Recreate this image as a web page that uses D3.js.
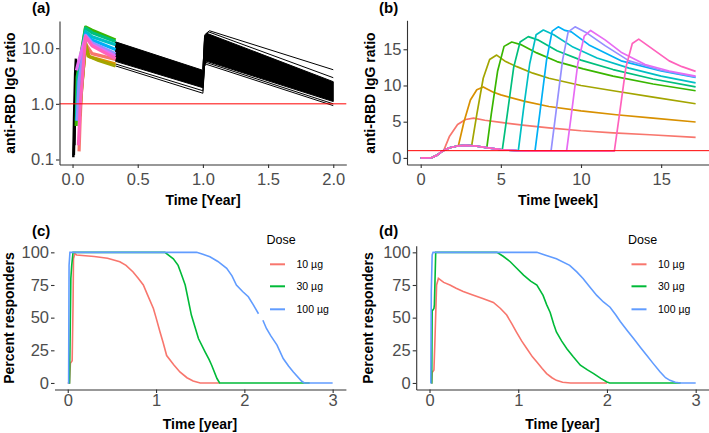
<!DOCTYPE html>
<html>
<meta charset="utf-8">
<script src="https://cdn.jsdelivr.net/npm/d3@7"></script>
<style>
body{margin:0;background:#fff;}
svg{font-family:"Liberation Sans", Arial, sans-serif;}
.tick text{fill:#4d4d4d;font-size:16.5px;}
.ptitle{font-weight:bold;font-size:15px;}
.atitle{font-weight:bold;font-size:14px;}
</style>
<body>
<svg id="fig" width="709" height="433"></svg>
<script>
const hue10 = ["#F8766D","#D89000","#A3A500","#39B600","#00BF7D","#00BFC4","#00B0F6","#9590FF","#E76BF3","#FF62BC"];
const doseCols = ["#F8766D","#00BA38","#619CFF"];
const doseLabels = ["10 µg","30 µg","100 µg"];

// ---- (a) IgG ratio over 2 years, [year, ratio]
const aBandT  = [0.33, 1.0, 1.012, 1.03, 2.0];
const aBandHi = [13.0, 4.0, 15.5, 18.5, 2.5];
const aBandLo = [5.8, 1.95, 4.8, 5.8, 1.1];
const aEdgeLines = [
  [[0.33,5.2],[1.0,1.72],[1.013,5.3],[1.03,5.5],[2.0,1.0]],
  [[0.33,4.8],[1.0,1.55],[1.013,4.9],[1.03,5.1],[2.0,0.93]],
  [[1.0,4.2],[1.015,17.5],[1.05,20.6],[2.0,4.1]],
  [[1.0,4.1],[1.014,16.8],[1.045,19.6],[2.0,2.95]]
];
const aRiseLines = [
  [[0.006,0.11],[0.012,0.6],[0.02,3.5],[0.026,6.5]],
  [[0.01,0.12],[0.016,0.4],[0.024,2.5],[0.03,6]],
  [[0.014,0.18],[0.02,1.0],[0.028,4.5],[0.034,5.5]]
];
const aColLines = [
  [[0.05,0.14],[0.058,0.5],[0.07,2],[0.1,12],[0.15,8],[0.33,6.3]],
  [[0.055,0.6],[0.065,1.5],[0.1,11],[0.13,7],[0.2,6.3],[0.33,5.2]],
  [[0.05,0.5],[0.1,12.5],[0.12,7.2],[0.2,6],[0.33,4.8]],
  [[0.028,0.4],[0.035,3],[0.1,24],[0.15,21],[0.33,14]],
  [[0.03,0.5],[0.04,3],[0.1,23],[0.15,19],[0.33,13.2]],
  [[0.032,0.5],[0.045,2.5],[0.1,20],[0.15,16],[0.33,11.5]],
  [[0.035,0.5],[0.05,2],[0.1,18],[0.15,14],[0.33,9.5]],
  [[0.037,0.5],[0.05,2.5],[0.1,17],[0.15,12.5],[0.33,8]],
  [[0.03,4],[0.04,5],[0.1,16.5],[0.15,11.5],[0.33,7.2]],
  [[0.045,0.18],[0.06,1],[0.1,16],[0.15,11],[0.33,6.5]]
];

// ---- (b) IgG ratio by week, first dose + boosts
const bPrimary = [[0,0],[0.7,0.05],[1.0,0.35],[1.4,1.0],[1.8,1.4],[2.3,1.65],[2.8,1.72],[3.3,1.68],[4.0,1.45],[5.0,1.15],[6.0,1.0],[7.0,0.95],[12.08,0.92]];
const bBoost = [
  [[1.45,1.1],[1.8,3.0],[2.3,4.6],[2.8,5.3],[3.3,5.5],[4.0,5.2],[5.0,4.9],[6.5,4.5],[8.0,4.15],[10.0,3.75],[12.0,3.45],[14.3,3.2],[17.15,2.84]],
  [[2.35,1.68],[2.7,5.0],[3.1,8.0],[3.5,9.4],[3.9,9.8],[4.5,9.1],[5.0,8.7],[6.5,7.8],[8.0,7.1],[10.0,6.5],[12.2,5.96],[14.5,5.5],[17.15,4.96]],
  [[3.18,1.7],[3.5,6.0],[3.9,11.0],[4.3,13.6],[4.74,14.2],[5.3,13.3],[6.0,12.6],[7.0,11.7],[8.0,11.0],[10.0,10.0],[12.2,9.2],[14.5,8.4],[17.15,7.48]],
  [[4.12,1.35],[4.4,6.0],[4.8,12.0],[5.2,15.4],[5.68,16.0],[6.3,15.6],[7.24,14.5],[8.5,13.3],[10.14,12.3],[12.0,11.3],[14.5,10.2],[17.15,9.27]],
  [[5.09,1.1],[5.4,6.0],[5.8,12.5],[6.2,16.0],[6.71,16.75],[7.3,16.3],[8.5,14.8],[10.0,13.5],[12.0,12.2],[14.5,10.9],[17.15,9.8]],
  [[6.09,1.0],[6.4,6.5],[6.8,13.0],[7.2,17.0],[7.65,17.65],[8.3,17.0],[9.5,15.3],[11.0,13.8],[13.0,12.4],[15.0,11.3],[17.15,10.35]],
  [[7.13,0.95],[7.45,6.5],[7.85,13.5],[8.2,17.5],[8.58,18.1],[9.0,17.6],[9.4,17.4],[10.5,15.6],[12.5,13.4],[15.0,12.0],[17.15,11.1]],
  [[8.13,0.95],[8.45,6.5],[8.85,13.5],[9.2,17.4],[9.63,18.1],[10.4,17.2],[11.5,15.5],[13.0,13.4],[15.0,12.1],[17.15,11.2]],
  [[9.1,0.95],[9.4,6.0],[9.8,13.0],[10.2,16.8],[10.6,17.6],[11.5,16.3],[12.5,14.6],[14.0,12.9],[15.5,12.0],[17.15,11.3]],
  [[12.08,0.92],[12.4,6.0],[12.8,12.5],[13.2,15.8],[13.6,16.4],[14.3,15.3],[15.5,13.4],[16.3,12.6],[17.15,11.95]]
];

// ---- (c) percent responders [year, %]
const cRed = [[0.0,0],[0.02,0],[0.03,15],[0.05,17],[0.06,60],[0.065,95],[0.08,99],[0.1,98],[0.3,96.8],[0.45,95.5],[0.59,92.8],[0.66,90],[0.74,85],[0.8,80],[0.856,75],[0.9,68],[0.97,57],[1.0,50],[1.045,39],[1.08,31],[1.12,21],[1.2,14],[1.27,8.4],[1.35,4],[1.42,1.5],[1.5,0],[1.72,0]];
const cGreen = [[0.01,0],[0.02,0],[0.025,25],[0.035,80],[0.045,90],[0.06,100],[1.1,100],[1.196,95],[1.25,90],[1.29,82.6],[1.33,75],[1.35,68.5],[1.4,52],[1.44,43],[1.48,34],[1.555,23.8],[1.6,18],[1.63,13.6],[1.69,3.4],[1.72,0],[2.74,0]];
const cBlue = [[0.0,0],[0.01,0],[0.015,90],[0.025,100],[1.46,100],[1.53,98.5],[1.61,96.6],[1.7,93],[1.8,87.7],[1.86,82],[1.91,75],[1.98,70],[2.045,66],[2.1,60],[2.16,53],null,[2.21,48],[2.25,41.7],[2.3,36],[2.37,29],[2.44,18.7],[2.5,13],[2.555,8.4],[2.65,1.3],[2.68,0],[3.0,0]];

// ---- (d) percent responders [year, %]
const dRed = [[0.02,0],[0.025,0],[0.03,8],[0.05,10],[0.06,30],[0.08,75],[0.1,80],[0.16,77],[0.23,75],[0.3,72.5],[0.38,70],[0.48,67.5],[0.6,64.7],[0.72,61.6],[0.8,57],[0.87,52],[0.93,45],[0.98,39],[1.04,32],[1.1,26],[1.16,20],[1.21,16],[1.27,11],[1.32,7.2],[1.38,4],[1.43,2],[1.5,0.5],[1.59,0],[2.0,0]];
const dGreen = [[0.02,0],[0.025,0],[0.03,55],[0.05,57],[0.055,60],[0.07,100],[0.76,100],[0.83,97],[0.91,92.8],[0.98,88],[1.06,82.6],[1.14,78],[1.21,75],[1.28,67],[1.32,60],[1.36,54],[1.4,45],[1.43,39],[1.49,32],[1.55,26],[1.62,20],[1.7,13.6],[1.78,10],[1.85,7.2],[1.93,3.5],[2.0,0.8],[2.03,0],[2.83,0]];
const dBlue = [[0.01,0],[0.015,0],[0.02,70],[0.03,98],[0.04,100],[1.21,100],[1.3,98],[1.43,95],[1.58,90],[1.66,85],[1.73,80],[1.8,74],[1.885,67],[1.96,62],[2.035,58],[2.1,52],[2.15,47],[2.23,40],[2.3,34],[2.38,27],[2.45,21],[2.52,15],[2.6,8.4],[2.66,4],[2.71,2],[2.77,0.5],[2.83,0],[3.0,0]];

const svg = d3.select("#fig");
svg.append("rect").attr("width",709).attr("height",433).attr("fill","#fff");

// scales
const xa = d3.scaleLinear().domain([-0.1, 2.1]).range([59.5, 346.3]);
const ya = d3.scaleLog().domain([0.0813, 30.8]).range([164.5, 21]);
const xb = d3.scaleLinear().domain([-0.855, 18.01]).range([407, 709.4]);
const yb = d3.scaleLinear().domain([-0.91, 19.0]).range([164.5, 20.3]);
const xc = d3.scaleLinear().domain([-0.15, 3.15]).range([54.5, 345.9]);
const yc = d3.scaleLinear().domain([-5, 105]).range([389.5, 245.8]);
const xd = d3.scaleLinear().domain([-0.15, 3.15]).range([416.2, 709]);
const yd = yc;

function drawAxes(xs, ys, xt, yt, fx, fy, xPad, yLine){
	const gx = svg.append("g").attr("transform", "translate(0," + ys.range()[0] + ")")
		.call(d3.axisBottom(xs).tickValues(xt).tickFormat(fx).tickSizeInner(3.5).tickSizeOuter(0).tickPadding(xPad));
	const gy = svg.append("g").attr("transform", "translate(" + xs.range()[0] + ",0)")
		.call(d3.axisLeft(ys).tickValues(yt).tickFormat(fy).tickSizeInner(3.5).tickSizeOuter(0).tickPadding(2));
	if(!yLine) gy.select(".domain").remove();
	[gx, gy].forEach(function(g){
		g.attr("font-family", null).attr("font-size", null);
		g.selectAll(".domain").attr("stroke", "#333").attr("stroke-width", 1.1);
		g.selectAll(".tick line").attr("stroke", "#333").attr("stroke-width", 1.1);
		g.selectAll(".tick text").attr("fill", "#4d4d4d");
	});
}

function lineOf(xs, ys){
	return d3.line().defined(d => d !== null).x(d => xs(d[0])).y(d => ys(d[1]));
}

// ===== panel a
const la = lineOf(xa, ya);
const bandPts = aBandT.map((t, i) => [t, aBandLo[i], aBandHi[i]]);
svg.append("path")
	.attr("d", d3.area().x(d => xa(d[0])).y0(d => ya(d[1])).y1(d => ya(d[2]))(bandPts))
	.attr("fill", "#000").attr("stroke", "#000").attr("stroke-width", 1);
svg.append("g").selectAll("path").data(aEdgeLines).join("path")
	.attr("d", la).attr("fill", "none").attr("stroke", "#000").attr("stroke-width", 1);
svg.append("g").selectAll("path").data(aRiseLines).join("path")
	.attr("d", la).attr("fill", "none").attr("stroke", "#000").attr("stroke-width", 2.5);
svg.append("g").selectAll("path").data(aColLines).join("path")
	.attr("d", la).attr("fill", "none").attr("stroke", (d, i) => hue10[i])
	.attr("stroke-width", 3.2).attr("stroke-linejoin", "round");
svg.append("line").attr("x1", xa.range()[0]).attr("x2", xa.range()[1])
	.attr("y1", ya(1)).attr("y2", ya(1)).attr("stroke", "#FF0000").attr("stroke-width", 1);
drawAxes(xa, ya, [0, 0.5, 1, 1.5, 2], [0.1, 1, 10], d3.format(".1f"), d3.format(".1f"), 5.5, true);

// ===== panel b
const lb = lineOf(xb, yb);
const bCurves = bBoost.map(c => bPrimary.filter(p => p[0] < c[0][0]).concat(c));
svg.append("g").selectAll("path").data(bCurves).join("path")
	.attr("d", lb).attr("fill", "none").attr("stroke", (d, i) => hue10[i])
	.attr("stroke-width", 1.7).attr("stroke-linejoin", "round");
svg.append("line").attr("x1", xb.range()[0]).attr("x2", xb.range()[1])
	.attr("y1", yb(1)).attr("y2", yb(1)).attr("stroke", "#FF0000").attr("stroke-width", 1);
drawAxes(xb, yb, [0, 5, 10, 15], [0, 5, 10, 15], d3.format("d"), d3.format("d"), 5.5, true);

// ===== panels c, d
function responders(xs, ys, series){
	const l = lineOf(xs, ys);
	svg.append("g").selectAll("path").data(series).join("path")
		.attr("d", l).attr("fill", "none").attr("stroke", (d, i) => doseCols[i])
		.attr("stroke-width", 1.6);
}
responders(xc, yc, [cRed, cGreen, cBlue]);
drawAxes(xc, yc, [0, 1, 2, 3], [0, 25, 50, 75, 100], d3.format("d"), d3.format("d"), 1.5, false);
responders(xd, yd, [dRed, dGreen, dBlue]);
drawAxes(xd, yd, [0, 1, 2, 3], [0, 25, 50, 75, 100], d3.format("d"), d3.format("d"), 1.5, true);

// legends
function legend(x0, keyY){
	svg.append("text").attr("x", x0).attr("y", 244).attr("font-size", "12.5px").text("Dose");
	doseLabels.forEach(function(lab, i){
		svg.append("line").attr("x1", x0 + 3.5).attr("x2", x0 + 18.5)
			.attr("y1", keyY[i]).attr("y2", keyY[i]).attr("stroke", doseCols[i]).attr("stroke-width", 2);
		svg.append("text").attr("x", x0 + 30).attr("y", keyY[i]).attr("dy", "0.35em")
			.attr("font-size", "10.5px").text(lab);
	});
}
legend(266.5, [264.3, 286.3, 309.3]);
legend(628, [264.3, 286.3, 309.3]);

// titles
[["(a)", 32, 13], ["(b)", 379, 13], ["(c)", 32, 236], ["(d)", 379, 236]].forEach(function(t){
	svg.append("text").attr("class", "ptitle").attr("x", t[1]).attr("y", t[2]).text(t[0]);
});
[["Time [Year]", 203, 205], ["Time [week]", 558, 205], ["Time [year]", 200, 429], ["Time [year]", 562.5, 429]].forEach(function(t){
	svg.append("text").attr("class", "atitle").attr("x", t[1]).attr("y", t[2]).attr("text-anchor", "middle").text(t[0]);
});
[["anti-RBD IgG ratio", 15, 93], ["anti-RBD IgG ratio", 374.5, 93], ["Percent responders", 13.5, 318], ["Percent responders", 373, 318]].forEach(function(t){
	svg.append("text").attr("class", "atitle").attr("text-anchor", "middle")
		.attr("transform", "translate(" + t[1] + "," + t[2] + ") rotate(-90)").text(t[0]);
});
</script>
</body>
</html>
